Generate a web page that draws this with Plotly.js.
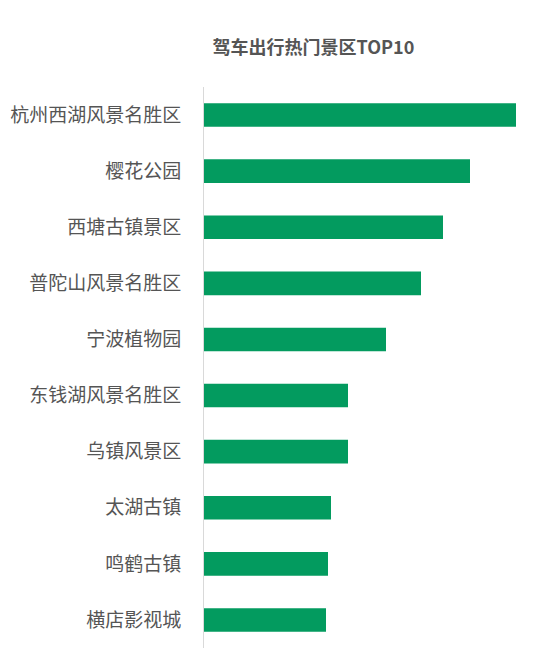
<!DOCTYPE html>
<html>
<head>
<meta charset="utf-8">
<script src="https://cdn.plot.ly/plotly-3.0.1.min.js"></script>
<style>
  html, body { margin: 0; padding: 0; background: #fff; }
  #chart { width: 548px; height: 660px; }
</style>
</head>
<body>
<div id="chart"></div>
<script>
// scenic spots, top to bottom as shown
const spots = ['杭州西湖风景名胜区', '樱花公园', '西塘古镇景区', '普陀山风景名胜区', '宁波植物园',
  '东钱湖风景名胜区', '乌镇风景区', '太湖古镇', '鸣鹤古镇', '横店影视城'];
// relative heat
const heat = [312, 266, 239, 217, 182, 144, 144, 127, 124, 122];

const trace = {
  type: 'bar',
  orientation: 'h',
  y: spots,
  x: heat,
  width: 0.42,
  marker: { color: '#039b5f' },
  hoverinfo: 'x+y',
};

const layout = {
  width: 548,
  height: 660,
  margin: { l: 204, r: 20, t: 87, b: 12 },
  paper_bgcolor: '#fff',
  plot_bgcolor: '#fff',
  font: { family: '"Noto Sans CJK SC", "Noto Sans", sans-serif', color: '#555' },
  title: {
    text: '<b>驾车出行热门景区TOP10</b>',
    font: { size: 18, color: '#555' },
    x: 0.572, xanchor: 'center',
    y: 0.927, yanchor: 'middle',
  },
  xaxis: {
    range: [0, 324],
    visible: false,
    fixedrange: true,
  },
  yaxis: {
    autorange: 'reversed',
    showline: true,
    linecolor: '#d9d9d9',
    linewidth: 1,
    showgrid: false,
    zeroline: false,
    ticks: '',
    ticklabelstandoff: 18,
    tickfont: { size: 19, color: '#555' },
    fixedrange: true,
  },
  showlegend: false,
  bargap: 0.58,
};

Plotly.newPlot('chart', [trace], layout, { displayModeBar: false, staticPlot: true });
</script>
</body>
</html>
